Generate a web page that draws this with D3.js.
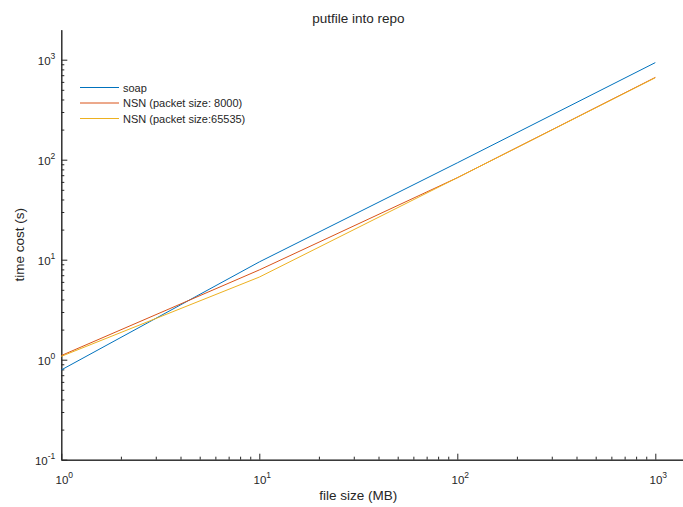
<!DOCTYPE html>
<html>
<head>
<meta charset="UTF-8" />
<title>putfile into repo</title>
<script src="https://cdn.jsdelivr.net/npm/d3@7/dist/d3.min.js"></script>
<style>
body { margin: 0; background: #fff; }
text { font-family: "Liberation Sans", Arial, sans-serif; fill: #262626; }
.axis path, .axis line { stroke: #262626; }
</style>
</head>
<body>
<div id="chart"></div>
<script>
// file sizes (MB)
var fileSizes = [1, 10, 100, 1000];
var seriesNames = ['soap', 'NSN (packet size: 8000)', 'NSN (packet size:65535)'];
var soapTimes = [0.79, 9.5, 93, 935];
var nsn8000Times = [1.1, 7.9, 66, 665];
var nsn65535Times = [1.08, 6.7, 66, 660];
var xDecades = [1, 10, 100, 1000];
var yDecades = [0.1, 1, 10, 100, 1000];

var colors = ['#0072BD', '#D95319', '#EDB120'];
var series = [soapTimes, nsn8000Times, nsn65535Times];

var width = 683, height = 507;
var left = 61.3, bottom = 459.7;

var x = d3.scaleLog().domain([1, Math.pow(10, 3.3)]).range([left, left + 3.3 * 198]);
var y = d3.scaleLog().domain([0.1, Math.pow(10, 3.3)]).range([bottom, bottom - 4.3 * 100]);

var svg = d3.select('#chart').append('svg')
    .attr('width', width)
    .attr('height', height);

// minor ticks
function minors(decades, max) {
    var out = [];
    decades.forEach(function(d) {
        for (var k = 2; k <= 9; k++) if (d * k <= max) out.push(d * k);
    });
    return out;
}
var xMinor = minors(xDecades, x.domain()[1]);
var yMinor = minors(yDecades, y.domain()[1]);

svg.append('g').attr('class', 'axis')
    .attr('transform', 'translate(0,' + bottom + ')')
    .call(d3.axisBottom(x).tickValues(xMinor).tickSizeInner(-3).tickSizeOuter(0).tickFormat(''));
svg.append('g').attr('class', 'axis')
    .attr('transform', 'translate(0,' + bottom + ')')
    .call(d3.axisBottom(x).tickValues(xDecades).tickSizeInner(-6).tickSizeOuter(0).tickFormat(''));
svg.append('g').attr('class', 'axis')
    .attr('transform', 'translate(' + left + ',0)')
    .call(d3.axisLeft(y).tickValues(yMinor).tickSizeInner(-3).tickSizeOuter(0).tickFormat(''));
svg.append('g').attr('class', 'axis')
    .attr('transform', 'translate(' + left + ',0)')
    .call(d3.axisLeft(y).tickValues(yDecades).tickSizeInner(-6).tickSizeOuter(0).tickFormat(''));

// tick labels 10^n
function powLabel(sel, v) {
    var e = Math.round(Math.log10(v));
    sel.append('tspan').text('10');
    sel.append('tspan').attr('dy', -6).style('font-size', '8.5px').text(e);
}
xDecades.forEach(function(v) {
    var t = svg.append('text')
        .attr('x', x(v) + 3)
        .attr('y', bottom + 24)
        .attr('text-anchor', 'middle')
        .style('font-size', '11.5px');
    powLabel(t, v);
});
yDecades.forEach(function(v) {
    var t = svg.append('text')
        .attr('x', left - 6)
        .attr('y', y(v) + 5)
        .attr('text-anchor', 'end')
        .style('font-size', '11.5px');
    powLabel(t, v);
});

// lines
var line = d3.line()
    .x(function(d, i) { return x(fileSizes[i]); })
    .y(function(d) { return y(d); });

series.forEach(function(s, i) {
    svg.append('path')
        .datum(s)
        .attr('d', line)
        .attr('fill', 'none')
        .attr('stroke', colors[i])
        .attr('stroke-width', 1);
});

// title and axis labels
svg.append('text')
    .attr('x', (x(1) + x(1000)) / 2)
    .attr('y', 23)
    .attr('text-anchor', 'middle')
    .style('font-size', '13.5px')
    .text('putfile into repo');

svg.append('text')
    .attr('x', (x(1) + x(1000)) / 2)
    .attr('y', 500)
    .attr('text-anchor', 'middle')
    .style('font-size', '13.5px')
    .text('file size (MB)');

svg.append('text')
    .attr('transform', 'translate(24,' + (y(0.1) + y(Math.pow(10, 3.3))) / 2 + ') rotate(-90)')
    .attr('text-anchor', 'middle')
    .style('font-size', '13.5px')
    .text('time cost (s)');

// legend
var legend = svg.selectAll('.legend')
    .data(seriesNames)
    .enter().append('g')
    .attr('class', 'legend')
    .attr('transform', function(d, i) { return 'translate(80,' + (87.5 + i * 15.5) + ')'; });

legend.append('line')
    .attr('x1', 0).attr('x2', 39)
    .attr('stroke', function(d, i) { return colors[i]; })
    .attr('stroke-width', 1);

legend.append('text')
    .attr('x', 43)
    .attr('y', 4)
    .style('font-size', '11px')
    .text(function(d) { return d; });
</script>
</body>
</html>
